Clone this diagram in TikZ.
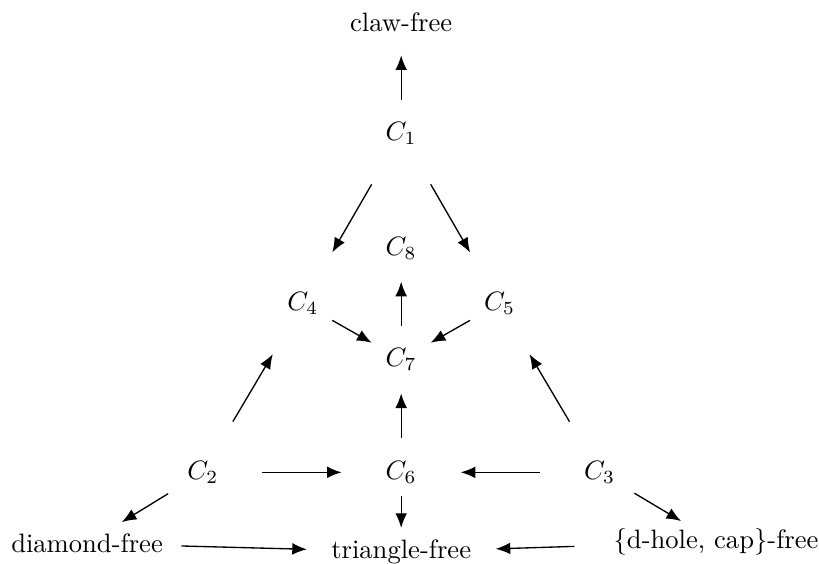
\documentclass[tikz,border=0pt]{standalone}
\usepackage{amsmath}
\usetikzlibrary{calc, arrows.meta}

\begin{document}
\begin{tikzpicture}[arr/.style={line width=0.5pt, -{Latex[length=5.5pt, width=4.4pt]}}]
			\useasboundingbox (0,0) rectangle (10.82,7.44);
				\node (claw)at(5.30, 7.15) {claw-free};
				\node (C1)at(5.30, 5.68) {$C_1$};
				\node (C8)at(5.30, 4.16) {$C_8$};
				\node (C4)at(4.00, 3.43) {$C_4$};
				\node (C5)at(6.60, 3.43) {$C_5$};
				\node (C7)at(5.30, 2.69) {$C_7$};
				\node (C2)at(2.68, 1.20) {$C_2$};
				\node (C6)at(5.30, 1.20) {$C_6$};
				\node (C3)at(7.92, 1.20) {$C_3$};
				\node (diamond)at(1.15, 0.26) {diamond-free};
				\node (tri)at(5.30, 0.15) {triangle-free};
				\node (dhole)at(9.46, 0.28) {\{d-hole, cap\}-free};
				\draw[arr] ($(C1)!0.3!(claw)$) -- ($(C1)!0.7!(claw)$);
				\draw[arr] ($(C1)!0.3!(C4)$) -- ($(C1)!0.7!(C4)$);
				\draw[arr] ($(C1)!0.3!(C5)$) -- ($(C1)!0.7!(C5)$);
				\draw[arr] ($(C7)!0.3!(C8)$) -- ($(C7)!0.7!(C8)$);
				\draw[arr] ($(C4)!0.3!(C7)$) -- ($(C4)!0.7!(C7)$);
				\draw[arr] ($(C5)!0.3!(C7)$) -- ($(C5)!0.7!(C7)$);
				\draw[arr] ($(C2)!0.3!(C4)$) -- ($(C2)!0.7!(C4)$);
				\draw[arr] ($(C3)!0.3!(C5)$) -- ($(C3)!0.7!(C5)$);
				\draw[arr] ($(C6)!0.3!(C7)$) -- ($(C6)!0.7!(C7)$);
				\draw[arr] ($(C2)!0.3!(C6)$) -- ($(C2)!0.7!(C6)$);
				\draw[arr] ($(C3)!0.3!(C6)$) -- ($(C3)!0.7!(C6)$);
				\draw[arr] ($(C6)!0.3!(tri)$) -- ($(C6)!0.7!(tri)$);
				\draw[arr] ($(C2)!0.3!(diamond)$) -- ($(C2)!0.7!(diamond)$);
				\draw[arr] ($(C3)!0.3!(dhole)$) -- ($(C3)!0.7!(dhole)$);
				\draw[arr] ($(diamond)!0.3!(tri)$) -- ($(diamond)!0.7!(tri)$);
				\draw[arr] ($(dhole)!0.45!(tri)$) -- ($(dhole)!0.7!(tri)$);
			\end{tikzpicture}
\end{document}
